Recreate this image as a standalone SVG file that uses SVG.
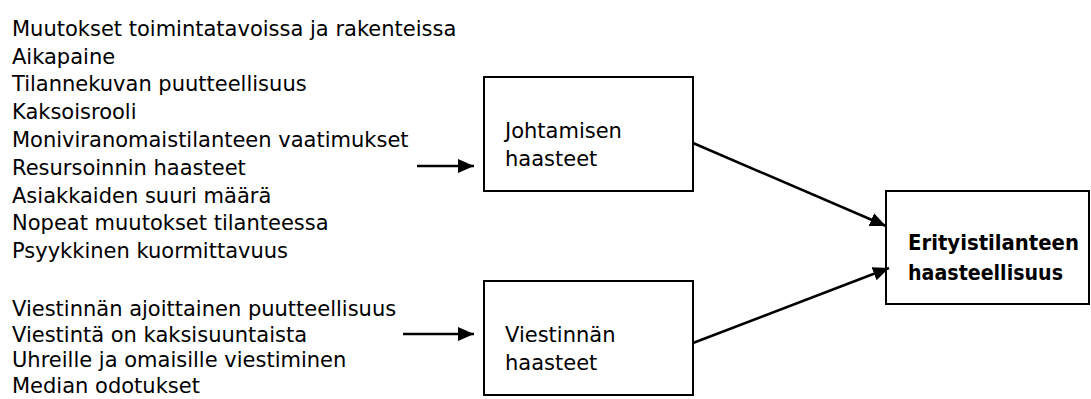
<svg xmlns="http://www.w3.org/2000/svg" width="1091" height="399" viewBox="0 0 1091 399">
<style>
text{font-family:"DejaVu Sans",sans-serif;font-size:21px;fill:#000}
.b{font-weight:bold}
rect{fill:#fff;stroke:#000;stroke-width:2}
.c line{stroke:#000;stroke-width:2.5}
</style>
<defs>
<marker id="ah" viewBox="0 0 16 14" refX="16" refY="7" markerWidth="16" markerHeight="14" markerUnits="userSpaceOnUse" orient="auto">
<path d="M0,0L16,7L0,14z" fill="#000"/>
</marker>
</defs>
<g id="list1">
<text x="12" y="36">Muutokset toimintatavoissa ja rakenteissa</text>
<text x="12" y="64">Aikapaine</text>
<text x="12" y="91">Tilannekuvan puutteellisuus</text>
<text x="12" y="119">Kaksoisrooli</text>
<text x="12" y="147">Moniviranomaistilanteen vaatimukset</text>
<text x="12" y="175">Resursoinnin haasteet</text>
<text x="12" y="203">Asiakkaiden suuri määrä</text>
<text x="12" y="230">Nopeat muutokset tilanteessa</text>
<text x="12" y="258">Psyykkinen kuormittavuus</text>
</g>
<g id="list2">
<text x="12" y="316">Viestinnän ajoittainen puutteellisuus</text>
<text x="12" y="342">Viestintä on kaksisuuntaista</text>
<text x="12" y="367">Uhreille ja omaisille viestiminen</text>
<text x="12" y="393">Median odotukset</text>
</g>
<g id="johtamisen">
<rect x="484" y="77" width="209" height="114"/>
<text x="505" y="138">Johtamisen</text>
<text x="505" y="166">haasteet</text>
</g>
<g id="viestinnan">
<rect x="484" y="281" width="209" height="114"/>
<text x="505" y="342">Viestinnän</text>
<text x="505" y="370">haasteet</text>
</g>
<g id="erityis">
<rect x="886" y="191" width="203" height="113"/>
<text class="b" x="908" y="250" textLength="171" lengthAdjust="spacingAndGlyphs">Erityistilanteen</text>
<text class="b" x="908" y="280" textLength="155" lengthAdjust="spacingAndGlyphs">haasteellisuus</text>
</g>
<g class="c" id="connectors">
<line x1="417" y1="166" x2="474" y2="166" marker-end="url(#ah)"/>
<line x1="403" y1="334" x2="474" y2="334" marker-end="url(#ah)"/>
<line x1="693" y1="143" x2="886" y2="226" marker-end="url(#ah)"/>
<line x1="693" y1="343" x2="889" y2="268" marker-end="url(#ah)"/>
</g>
</svg>
